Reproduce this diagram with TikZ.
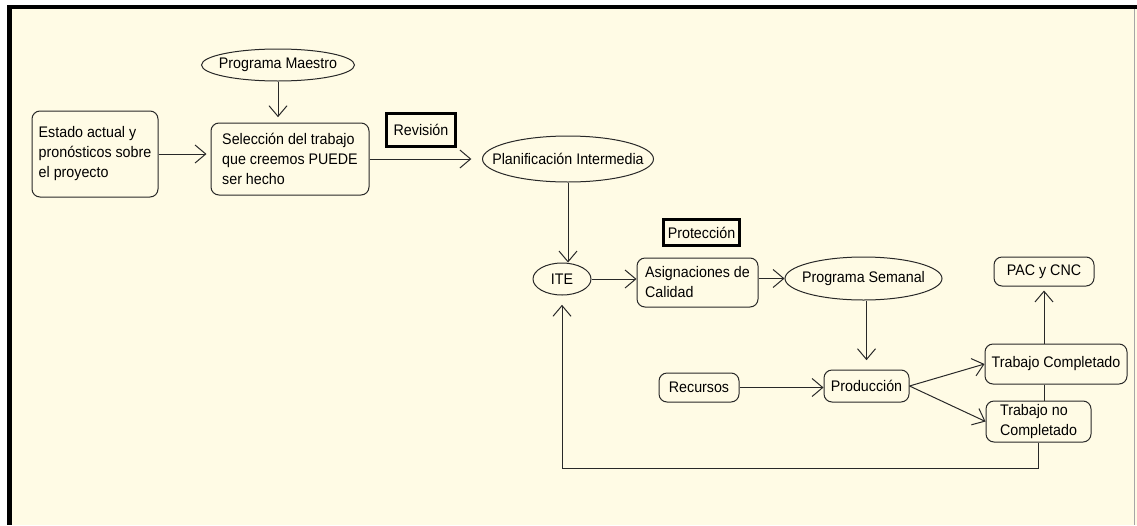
\documentclass[tikz,border=0pt]{standalone}
\usepackage{fontspec}
\setmainfont{Liberation Sans}[FakeStretch=0.93]
\usepackage{tikz}
\usetikzlibrary{arrows.meta,positioning,shapes.geometric,calc}
\usepackage{xcolor}
\definecolor{crema}{RGB}{255,251,229}
\definecolor{trazo}{RGB}{40,40,40}

\begin{document}
\begin{tikzpicture}[x=0.75pt, y=-0.75pt,
        caja/.style={draw=trazo, rounded corners=6pt, line width=0.75pt, align=left,
                        inner sep=0pt, font=\fontsize{11.5}{15}\selectfont},
        elipse/.style={draw=trazo, ellipse, line width=0.75pt, inner sep=0pt,
                        font=\fontsize{11.5}{15}\selectfont},
        marco/.style={draw=black, line width=2.5pt, inner sep=0pt,
                        font=\fontsize{11.5}{15}\selectfont},
        flecha/.style={draw=trazo, line width=0.75pt, -{Straight Barb[length=8pt,width=13.5pt]}},
        linea/.style={draw=trazo, line width=0.75pt}
    ]
    % ---- Fondo y marco ----
    \useasboundingbox (0,0) rectangle (1137,525);
    \fill[white] (0,0) rectangle (1137,525);
    \fill[crema] (7,5) rectangle (1137,525);
    \fill[black] (7,5) rectangle (12,525);
    \fill[black] (7,5) rectangle (1137,9);
    \draw[gray!70, line width=0.75pt] (1134,9) -- (1134,525);

    % ---- Planificacion (arriba) ----
    \node[elipse, minimum width=114.75pt, minimum height=24pt] (pm) at (278,65) {\makebox[0pt]{Programa Maestro}};
    \node[caja, minimum width=94.5pt, minimum height=64.5pt] (est) at (95,154) {Estado actual y\\pronósticos sobre\\el proyecto};
    \node[caja, minimum width=118.5pt, minimum height=54pt] (sel) at (290,159) {Selección del trabajo\\que creemos PUEDE\\ser hecho};
    \node[marco, minimum width=51.5pt, minimum height=24.5pt] (rev) at (421,130) {Revisión};
    \node[elipse, minimum width=128.25pt, minimum height=34.5pt] (plan) at (568,159) {\makebox[0pt]{Planificación Intermedia}};

    % ---- Ciclo semanal ----
    \node[elipse, minimum width=43.5pt, minimum height=24pt] (ite) at (562,279) {\makebox[0pt]{ITE}};
    \node[marco, minimum width=57pt, minimum height=19.5pt] (prot) at (701.5,232.5) {Protección};
    \node[caja, minimum width=90.75pt, minimum height=36.75pt] (asig) at (697.5,282.5) {Asignaciones de\\Calidad};
    \node[elipse, minimum width=117.75pt, minimum height=32.25pt] (ps) at (863.5,278.5) {\makebox[0pt]{Programa Semanal}};
    \node[caja, minimum width=60pt, minimum height=21.75pt] (rec) at (699,387.5) {Recursos};
    \node[caja, minimum width=63.75pt, minimum height=24pt] (prod) at (866.5,386) {Producción};

    % ---- Resultados ----
    \node[caja, minimum width=75pt, minimum height=21.75pt] (pac) at (1044,271.5) {PAC y CNC};
    \node[caja, minimum width=106.5pt, minimum height=30pt] (tc) at (1056,364) {Trabajo Completado};
    \node[caja, minimum width=78.75pt, minimum height=30.75pt, inner xsep=5pt] (tnc) at (1038.5,421.5) {Trabajo no\\Completado\hfill};

    % Flechas
    \draw[flecha, shorten >=3pt] (est.east) -- (est.east -| sel.west);
    \draw[flecha, shorten >=4pt] (pm.south) -- (pm.south |- sel.north);
    \draw[flecha, shorten >=8pt] (sel.east) -- (plan.west);
    \draw[flecha] (plan.south) -- (plan.south |- ite.north);
    \draw[flecha] (ite.east) -- (ite.east -| asig.west);
    \draw[flecha] (asig.east |- ps.west) -- (ps.west);
    \draw[flecha, shorten >=7pt] (ps.south -| prod.north) -- (prod.north);
    \draw[flecha] (rec.east) -- (rec.east -| prod.west);
    \draw[flecha] (prod.east) -- (tc.west);
    \draw[flecha] (prod.east) -- (tnc.west);
    \draw[flecha, shorten >=3pt] (tc.north -| pac.south) -- (pac.south);
    \draw[linea] (tc.south -| pac.south) -- (tnc.north -| pac.south);

    % Retorno al ITE
    \draw[flecha, shorten >=7pt] (tnc.south) -- ++(0,26) -| (ite.south);

    \end{tikzpicture}
\end{document}
